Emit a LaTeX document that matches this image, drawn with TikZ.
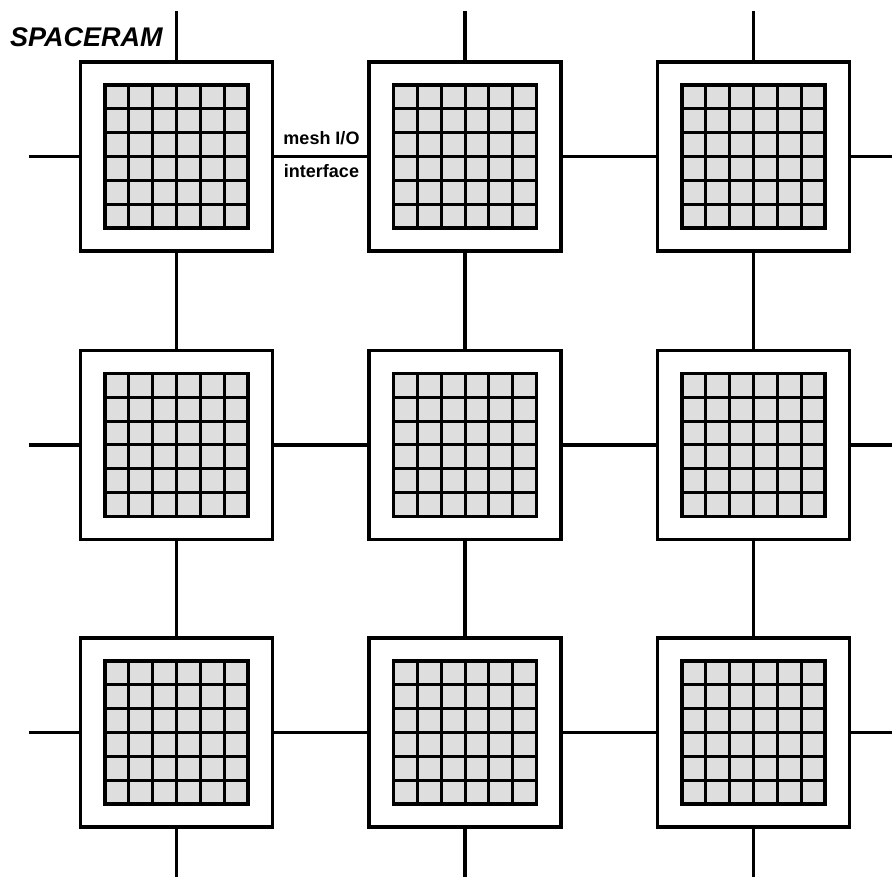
\documentclass[tikz,border=0pt]{standalone}
\usepackage{fontspec}
\setmainfont{Liberation Sans}
\begin{document}
\begin{tikzpicture}[x=1pt,y=-1pt,
  module/.style={draw=black, line width=3.2pt, fill=white, minimum width=192pt, minimum height=189pt, inner sep=0pt},
  link/.style={line width=3.2pt},
  cellfill/.style={fill=black!13},
  gridline/.style={line width=3pt},
  gridborder/.style={line width=3.8pt},
  label/.style={inner sep=0pt, font=\fontsize{18}{20}\selectfont\bfseries}]
\useasboundingbox (0,0) rectangle (892,877);
% modules
\foreach \r/\yy in {1/156.5,2/445,3/732.5}{
  \foreach \c/\xx in {1/176.5,2/465,3/753.5}{
    \node[module] (m\r\c) at (\xx,\yy) {};
    \fill[cellfill] (\xx-71.5,\yy-71.5) rectangle (\xx+71.5,\yy+71.5);
    \foreach \i in {1,...,5}{
      \draw[gridline] (\xx-71.5+\i*23.833,\yy-71.5) -- (\xx-71.5+\i*23.833,\yy+71.5);
      \draw[gridline] (\xx-71.5,\yy-71.5+\i*23.833) -- (\xx+71.5,\yy-71.5+\i*23.833);
    }
    \draw[gridborder] (\xx-71.5,\yy-71.5) rectangle (\xx+71.5,\yy+71.5);
  }
}
% edge coordinates
\foreach \r/\yy in {1/156.5,2/445,3/732.5}{
  \coordinate (L\r) at (29,\yy);
  \coordinate (R\r) at (892,\yy);
}
\foreach \c/\xx in {1/176.5,2/465,3/753.5}{
  \coordinate (T\c) at (\xx,11);
  \coordinate (B\c) at (\xx,877);
}
% horizontal links
\foreach \r in {1,2,3}{
  \draw[link] (L\r) -- (m\r1.west);
  \draw[link] (m\r1.east) -- (m\r2.west);
  \draw[link] (m\r2.east) -- (m\r3.west);
  \draw[link] (m\r3.east) -- (R\r);
}
% vertical links
\foreach \c in {1,2,3}{
  \draw[link] (T\c) -- (m1\c.north);
  \draw[link] (m1\c.south) -- (m2\c.north);
  \draw[link] (m2\c.south) -- (m3\c.north);
  \draw[link] (m3\c.south) -- (B\c);
}
% texts
\node[inner sep=0pt, anchor=base west, font=\fontsize{27}{30}\selectfont\bfseries\itshape] (title) at (10,47) {SPACERAM};
\node[label, anchor=base] (mesh) at (321.5,145) {mesh I/O};
\node[label, anchor=base] (iface) at (321.5,178) {interface};
\end{tikzpicture}
\end{document}
